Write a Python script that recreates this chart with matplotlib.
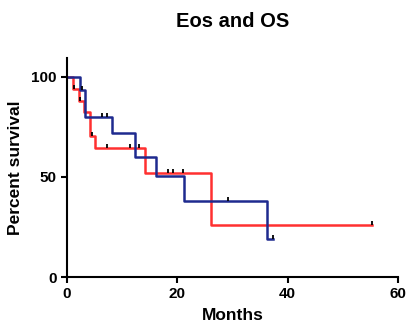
import numpy as np
import matplotlib
matplotlib.use("Agg")
import matplotlib.pyplot as plt

plt.rcParams['font.family'] = ['Liberation Sans', 'DejaVu Sans']
plt.rcParams['font.weight'] = 'bold'

# Kaplan-Meier steps (months, percent)
red_times = [0, 1.1, 2.2, 3.1, 4.1, 5.1, 14.1, 26.2, 55.3]
red_surv = [100, 94.1, 88.2, 82.4, 70.6, 64.7, 51.8, 25.9, 25.9]
red_censor = [1.3, 2.4, 4.5, 7.2, 11.4, 13.1, 18.3, 19.2, 21.0, 55.3]

blue_times = [0, 2.4, 3.2, 8.2, 12.3, 16.2, 21.2, 36.3, 37.3]
blue_surv = [100, 93.3, 80.0, 72.0, 60.0, 50.4, 37.8, 18.9, 18.9]
blue_censor = [2.7, 6.3, 7.2, 29.2, 37.3]

x_ticks = [0, 20, 40, 60]
y_ticks = [0, 50, 100]


def level_at(times, surv, t):
    idx = np.searchsorted(times, t, side='right') - 1
    return surv[idx]


def draw_curve(ax, times, surv, censor, color):
    ax.step(times, surv, where='post', color=color, lw=1.8, zorder=2)
    cy = [level_at(times, surv, t) for t in censor]
    ax.plot(censor, np.array(cy) + 1.0, linestyle='none', marker='|',
            markersize=3.5, markeredgewidth=1.3, color='black', zorder=3)


fig = plt.figure(figsize=(4.08, 3.29), dpi=100)
ax = fig.add_axes([0.164, 0.158, 0.811, 0.666])

draw_curve(ax, red_times, red_surv, red_censor, '#ff3030')
draw_curve(ax, blue_times, blue_surv, blue_censor, '#1e2a8f')

ax.set_xlim(0, 60)
ax.set_ylim(0, 109.5)
ax.set_xticks(x_ticks)
ax.set_yticks(y_ticks)
ax.spines['top'].set_visible(False)
ax.spines['right'].set_visible(False)
ax.spines['left'].set_linewidth(1.5)
ax.spines['bottom'].set_linewidth(1.5)
ax.tick_params(width=1.5, length=4, labelsize=11)
ax.set_xlabel('Months', fontsize=12.5, fontweight='bold', labelpad=5)
ax.set_ylabel('Percent survival', fontsize=12.5, fontweight='bold', labelpad=6)
fig.suptitle('Eos and OS', x=0.57, y=0.965, fontsize=14.5, fontweight='bold')

fig.savefig('out.png', dpi=100)
